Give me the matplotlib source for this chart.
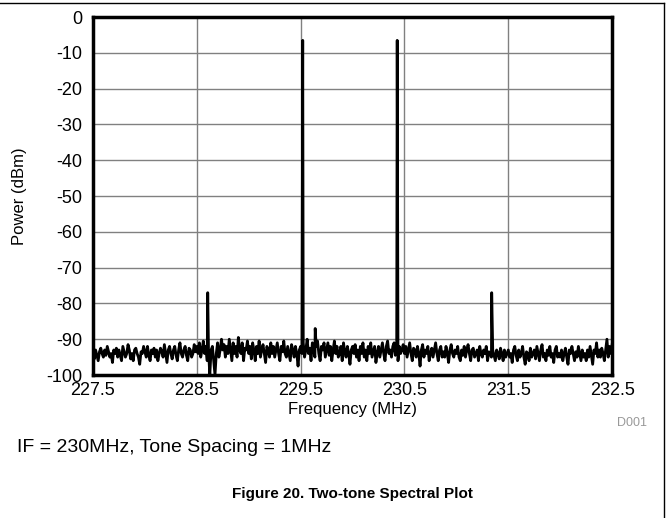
import numpy as np
import matplotlib
matplotlib.use("Agg")
import matplotlib.pyplot as plt
from matplotlib.lines import Line2D

plt.rcParams['font.family'] = ['Liberation Sans', 'DejaVu Sans']
plt.rcParams['axes.unicode_minus'] = False

# noise floor, one value every 12.5 kHz from 227.5 MHz
FREQ_START = 227.5
FREQ_STEP = 0.0125
noise_dbm = [
    -94, -95.5, -93, -94.5, -96, -93.5, -92.5, -94, -95, -93,
    -94.5, -92, -93.5, -95, -94, -96.5, -93, -94, -92.5, -95,
    -93, -94.5, -96, -92, -93.5, -95, -94, -91.5, -93, -95.5,
    -94, -96, -93, -92.5, -94, -95, -97, -93.5, -94, -92,
    -93.5, -95, -92, -94.5, -96, -93, -94, -92.5, -95, -93,
    -96, -94, -92.5, -93.5, -95, -91.5, -94, -96.5, -93, -92,
    -94, -95.5, -93, -92, -94.5, -96, -93, -91, -94, -95,
    -93, -92, -94.5, -96, -92.5, -93, -95, -94, -91.5, -93.5,
    -92, -94, -91, -95, -93, -90.5, -94, -92, -96, -93,
    -100, -93, -92, -96, -100, -94, -91, -95, -93, -90,
    -93, -91.5, -95, -92, -94, -90, -93, -96, -91, -94,
    -92, -95, -89.5, -93, -94, -91, -96, -92.5, -93, -90.5,
    -94, -92, -95.5, -91, -93, -96, -92, -94, -90.5, -95,
    -93, -91.5, -94, -96.5, -92, -93, -95, -91, -94, -92,
    -95, -93, -91, -94, -96, -92, -93.5, -90.5, -94, -95,
    -92, -94, -96, -91.5, -93, -95, -92, -94, -97.5, -93,
    -92, -94, -91, -95, -93, -90, -94, -92.5, -96, -91,
    -93, -95, -92, -90.5, -94, -96, -92, -93, -91, -95,
    -93, -91, -94.5, -92, -96, -93, -90.5, -94, -92, -95,
    -94, -92, -96, -91, -93.5, -95, -92, -94, -97, -93,
    -92, -94, -91.5, -95, -93, -96, -92, -94, -91, -95,
    -93, -96, -92, -94, -91, -95, -93.5, -92, -96.5, -94,
    -92, -95, -93, -91, -94, -96, -92, -90.5, -94, -93,
    -95, -92, -91, -94.5, -93, -96, -92, -94, -93, -91.5,
    -94, -92, -95, -93, -91, -94, -96, -92.5, -93, -95,
    -92, -94, -97.5, -93, -91.5, -95, -93, -94, -92, -96,
    -94, -92.5, -95, -93, -91, -94, -96, -93, -92, -95,
    -93.5, -95, -92, -94, -96.5, -93, -91.5, -94, -95, -93,
    -94, -92, -95, -96, -93, -94.5, -92, -95, -93, -91.5,
    -94, -96, -93, -92.5, -95, -94, -93, -96, -92, -94,
    -95, -93, -94, -92, -96, -93.5, -94, -95, -93, -94.5,
    -96, -93, -94, -95.5, -92.5, -94, -96, -93, -95, -94,
    -93, -95, -94, -96.5, -93, -92, -94.5, -96, -93, -95,
    -94, -92, -95, -97, -93.5, -94, -96, -92.5, -95, -94,
    -93, -95.5, -92, -94, -96, -93, -91.5, -95, -94, -96,
    -93, -94.5, -92, -95, -94, -96.5, -93, -92, -95, -94,
    -95, -93, -96, -94, -92.5, -95, -97, -93, -94, -92,
    -94, -96, -93.5, -95, -92, -94, -96, -93, -95, -94,
    -96, -93, -95, -92, -94.5, -97, -93, -94, -91, -95,
    -93, -95, -92.5, -94, -96, -93, -90, -95, -92, -94,
    -91.5,
]

# carriers and spurs
tone_freq = [228.605, 229.52, 229.64, 230.43, 231.34]
tone_dbm = [-77, -6.5, -87, -6.5, -77]

freq = FREQ_START + FREQ_STEP * np.arange(len(noise_dbm))
all_f = np.concatenate([freq, tone_freq])
all_p = np.concatenate([noise_dbm, tone_dbm])
order = np.argsort(all_f)
all_f, all_p = all_f[order], all_p[order]

xticks = [227.5, 228.5, 229.5, 230.5, 231.5, 232.5]
yticks = list(range(-100, 1, 10))

fig = plt.figure(figsize=(6.69, 5.18), dpi=100)
ax = fig.add_axes([0.139, 0.276, 0.776, 0.691])

ax.plot(all_f, all_p, color='black', lw=2)
ax.set_xlim(227.5, 232.5)
ax.set_ylim(-100, 0)
ax.set_xticks(xticks)
ax.set_xticklabels([f"{v:g}" for v in xticks])
ax.set_yticks(yticks)
ax.grid(True, color='#808080', lw=1)
ax.set_axisbelow(True)
ax.tick_params(axis='y', length=0, labelsize=13, pad=8)
ax.tick_params(axis='x', length=0, labelsize=13, pad=5)
for s in ax.spines.values():
    s.set_linewidth(2.5)

ax.set_xlabel("Frequency (MHz)", fontsize=12, labelpad=2)
ax.set_ylabel("Power (dBm)", fontsize=12)
ax.yaxis.set_label_coords(-0.128, 0.5)

fig.text(0.945, 0.183, "D001", color='#999999', fontsize=9, ha='center', va='center')
fig.text(0.025, 0.137, "IF = 230MHz, Tone Spacing = 1MHz", fontsize=14, va='center')
fig.text(0.527, 0.046, "Figure 20. Two-tone Spectral Plot", fontsize=11,
         fontweight='bold', ha='center', va='center')

# page frame lines
fig.add_artist(Line2D([0, 0.993], [0.994, 0.994], color='black', lw=1))
fig.add_artist(Line2D([0.993, 0.993], [0, 0.994], color='black', lw=1))

fig.savefig("out.png", dpi=100)
